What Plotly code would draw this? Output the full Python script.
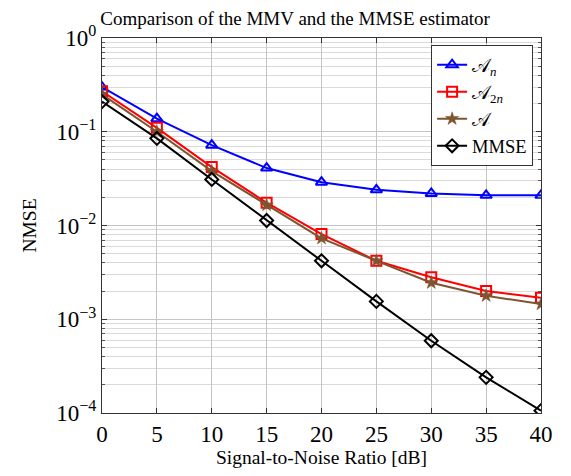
import plotly.graph_objects as go

snr = [0, 5, 10, 15, 20, 25, 30, 35, 40]
nmse_An = [0.30, 0.138, 0.072, 0.041, 0.029, 0.024, 0.022, 0.021, 0.021]
nmse_A2n = [0.27, 0.11, 0.042, 0.0175, 0.0081, 0.0042, 0.0028, 0.0020, 0.0017]
nmse_A = [0.25, 0.10, 0.038, 0.0165, 0.0073, 0.0042, 0.00245, 0.00178, 0.00145]
nmse_mmse = [0.21, 0.085, 0.031, 0.0113, 0.0042, 0.00155, 0.00059, 0.00024, 0.000106]

y_tickvals = [1e-4, 1e-3, 1e-2, 1e-1, 1]
y_ticktext = ["10<sup>−4</sup>", "10<sup>−3</sup>", "10<sup>−2</sup>", "10<sup>−1</sup>", "10<sup>0</sup>"]

names = ["𝒜<sub><i>n</i></sub>", "𝒜<sub>2<i>n</i></sub>", "𝒜", "MMSE"]
colors = ["#0000ff", "#ff0000", "#7d5530", "#000000"]
symbols = ["triangle-up-open", "square-open", "star", "diamond-open"]
series = [nmse_An, nmse_A2n, nmse_A, nmse_mmse]

fig = go.Figure()
for name, col, sym, ys in zip(names, colors, symbols, series):
    fig.add_trace(go.Scatter(
        x=snr, y=ys, name=name, mode="lines+markers",
        line=dict(color=col, width=2),
        marker=dict(symbol=sym, size=10, color=col,
                    line=dict(color=col, width=2 if sym != "star" else 0.5)),
    ))

font = "Liberation Serif, Times New Roman, serif"
fig.update_layout(
    width=563, height=468,
    margin=dict(l=94, r=30, t=30, b=63),
    paper_bgcolor="white", plot_bgcolor="white",
    font=dict(family=font, color="black", size=16),
    title=dict(text="Comparison of the MMV and the MMSE estimator",
               x=0.51, xref="container", xanchor="center",
               y=0.993, yref="container", yanchor="top", pad=dict(t=0, b=0),
               font=dict(size=19, family=font)),
    showlegend=True,
    legend=dict(x=0.982, y=0.981, xanchor="right", yanchor="top",
                bgcolor="white", bordercolor="#333333", borderwidth=1,
                font=dict(size=18.5, family=font), tracegroupgap=0),
)
fig.update_xaxes(
    range=[0, 40], dtick=5, tick0=0,
    showgrid=True, gridcolor="#c4c4c4", gridwidth=1,
    showline=True, linecolor="#333333", linewidth=1.2, mirror="allticks",
    ticks="inside", ticklen=5, tickcolor="#333333",
    tickfont=dict(size=23, family=font),
    title=dict(text="Signal-to-Noise Ratio [dB]", font=dict(size=19.5, family=font), standoff=4),
    zeroline=False,
)
fig.update_yaxes(
    type="log", range=[-4, 0], tickvals=y_tickvals, ticktext=y_ticktext,
    showgrid=True, gridcolor="#c4c4c4", gridwidth=1,
    showline=True, linecolor="#333333", linewidth=1.2, mirror="allticks",
    ticks="inside", ticklen=5, tickcolor="#333333",
    tickfont=dict(size=23, family=font),
    minor=dict(dtick="D1", showgrid=True, gridcolor="#dadada", gridwidth=1,
               ticks="inside", ticklen=3, tickcolor="#555555"),
    title=dict(text="NMSE", font=dict(size=19.5, family=font), standoff=14),
    zeroline=False,
)
fig.write_html("out.html")
